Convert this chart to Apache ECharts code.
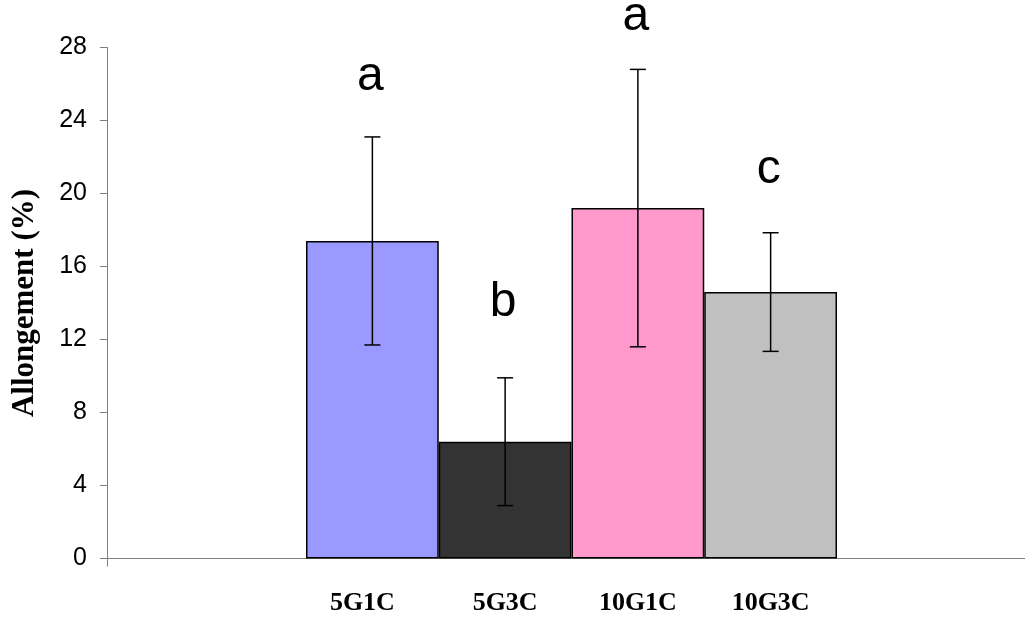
<!DOCTYPE html>
<html>
<head>
<meta charset="utf-8">
<script src="https://cdn.jsdelivr.net/npm/echarts@6/dist/echarts.min.js"></script>
<style>
html,body{margin:0;padding:0;background:#fff;}
#chart{width:1025px;height:618px;}
</style>
</head>
<body>
<div id="chart"></div>
<script>
// ---- data ----
const categories = ['5G1C', '5G3C', '10G1C', '10G3C'];
const means = [17.4, 6.4, 19.2, 14.6];
const errors = [5.7, 3.5, 7.6, 3.25];
const letters = ['a', 'b', 'a', 'c'];
const letterY = [26.4, 14.0, 29.7, 21.3];
const yMin = 0, yMax = 28, yStep = 4;
const yTitle = 'Allongement (%)';
const barColors = ['#9999FF', '#333333', '#FF99CC', '#C0C0C0'];

// ---- chart ----
const chart = echarts.init(document.getElementById('chart'), null, {renderer: 'canvas'});
const gridTop = 47.5, gridBottom = 59.5;
const axisColor = '#808080';

const errData = means.map((m, i) => [i, m - errors[i], m + errors[i]]);
const letterData = letters.map((l, i) => [i, letterY[i]]);
const labelFont = {color: '#000', fontFamily: 'Liberation Serif', fontWeight: 'bold', fontSize: 26};

const option = {
  animation: false,
  backgroundColor: '#fff',
  grid: [
    {left: 107, right: 0, top: gridTop, bottom: gridBottom},
    {left: 306, right: 188, top: gridTop, bottom: gridBottom}
  ],
  xAxis: [
    {
      gridIndex: 0, type: 'category', data: [''], boundaryGap: true,
      axisLine: {show: true, lineStyle: {color: axisColor, width: 1}},
      axisTick: {show: true, length: 8, lineStyle: {color: axisColor}},
      axisLabel: {show: false}, splitLine: {show: false}
    },
    {
      gridIndex: 1, type: 'category', data: categories, boundaryGap: true,
      axisLine: {show: false}, axisTick: {show: false}, splitLine: {show: false},
      axisLabel: Object.assign({
        show: true, interval: 0, margin: 45, verticalAlign: 'middle',
        formatter: function (v, i) { return i === 0 ? '{s|' + v + '}' : '{n|' + v + '}'; },
        rich: {
          s: Object.assign({padding: [0, 20, 0, 0]}, labelFont),
          n: Object.assign({}, labelFont)
        }
      }, labelFont)
    }
  ],
  yAxis: [
    {
      gridIndex: 0, type: 'value', min: yMin, max: yMax, interval: yStep,
      axisLine: {show: true, lineStyle: {color: axisColor, width: 1}},
      axisTick: {show: true, length: 7, inside: false, lineStyle: {color: axisColor}},
      axisLabel: {margin: 20, color: '#000', fontFamily: 'Liberation Sans', fontSize: 25},
      splitLine: {show: false}
    },
    {
      gridIndex: 1, type: 'value', min: yMin, max: yMax, interval: yStep, show: false,
      splitLine: {show: false}
    }
  ],
  graphic: [
    {
      type: 'text', x: 25, y: 303, rotation: Math.PI / 2,
      style: {
        text: yTitle, align: 'center', verticalAlign: 'middle',
        font: 'bold 31px "Liberation Serif"', fill: '#000'
      }
    }
  ],
  series: [
    {
      type: 'bar', xAxisIndex: 1, yAxisIndex: 1,
      barCategoryGap: 0,
      data: means.map((v, i) => ({
        value: v,
        itemStyle: {color: barColors[i], borderColor: '#000', borderWidth: 1.5}
      })),
      z: 2
    },
    {
      type: 'custom', xAxisIndex: 1, yAxisIndex: 1, z: 5, clip: false,
      data: errData,
      renderItem: function (params, api) {
        const x = api.value(0);
        const lo = api.coord([x, api.value(1)]);
        const hi = api.coord([x, api.value(2)]);
        const cap = 8;
        const st = {stroke: '#000', lineWidth: 1.5};
        return {
          type: 'group',
          children: [
            {type: 'line', shape: {x1: lo[0], y1: lo[1], x2: hi[0], y2: hi[1]}, style: st},
            {type: 'line', shape: {x1: hi[0] - cap, y1: hi[1], x2: hi[0] + cap, y2: hi[1]}, style: st},
            {type: 'line', shape: {x1: lo[0] - cap, y1: lo[1], x2: lo[0] + cap, y2: lo[1]}, style: st}
          ]
        };
      }
    },
    {
      type: 'custom', xAxisIndex: 1, yAxisIndex: 1, z: 6, clip: false,
      data: letterData,
      renderItem: function (params, api) {
        const p = api.coord([api.value(0), api.value(1)]);
        return {
          type: 'text', x: p[0] - 2, y: p[1],
          style: {
            text: letters[params.dataIndex], align: 'center', verticalAlign: 'middle',
            font: '48px "Liberation Sans"', fill: '#000'
          }
        };
      }
    }
  ]
};
chart.setOption(option);
</script>
</body>
</html>
